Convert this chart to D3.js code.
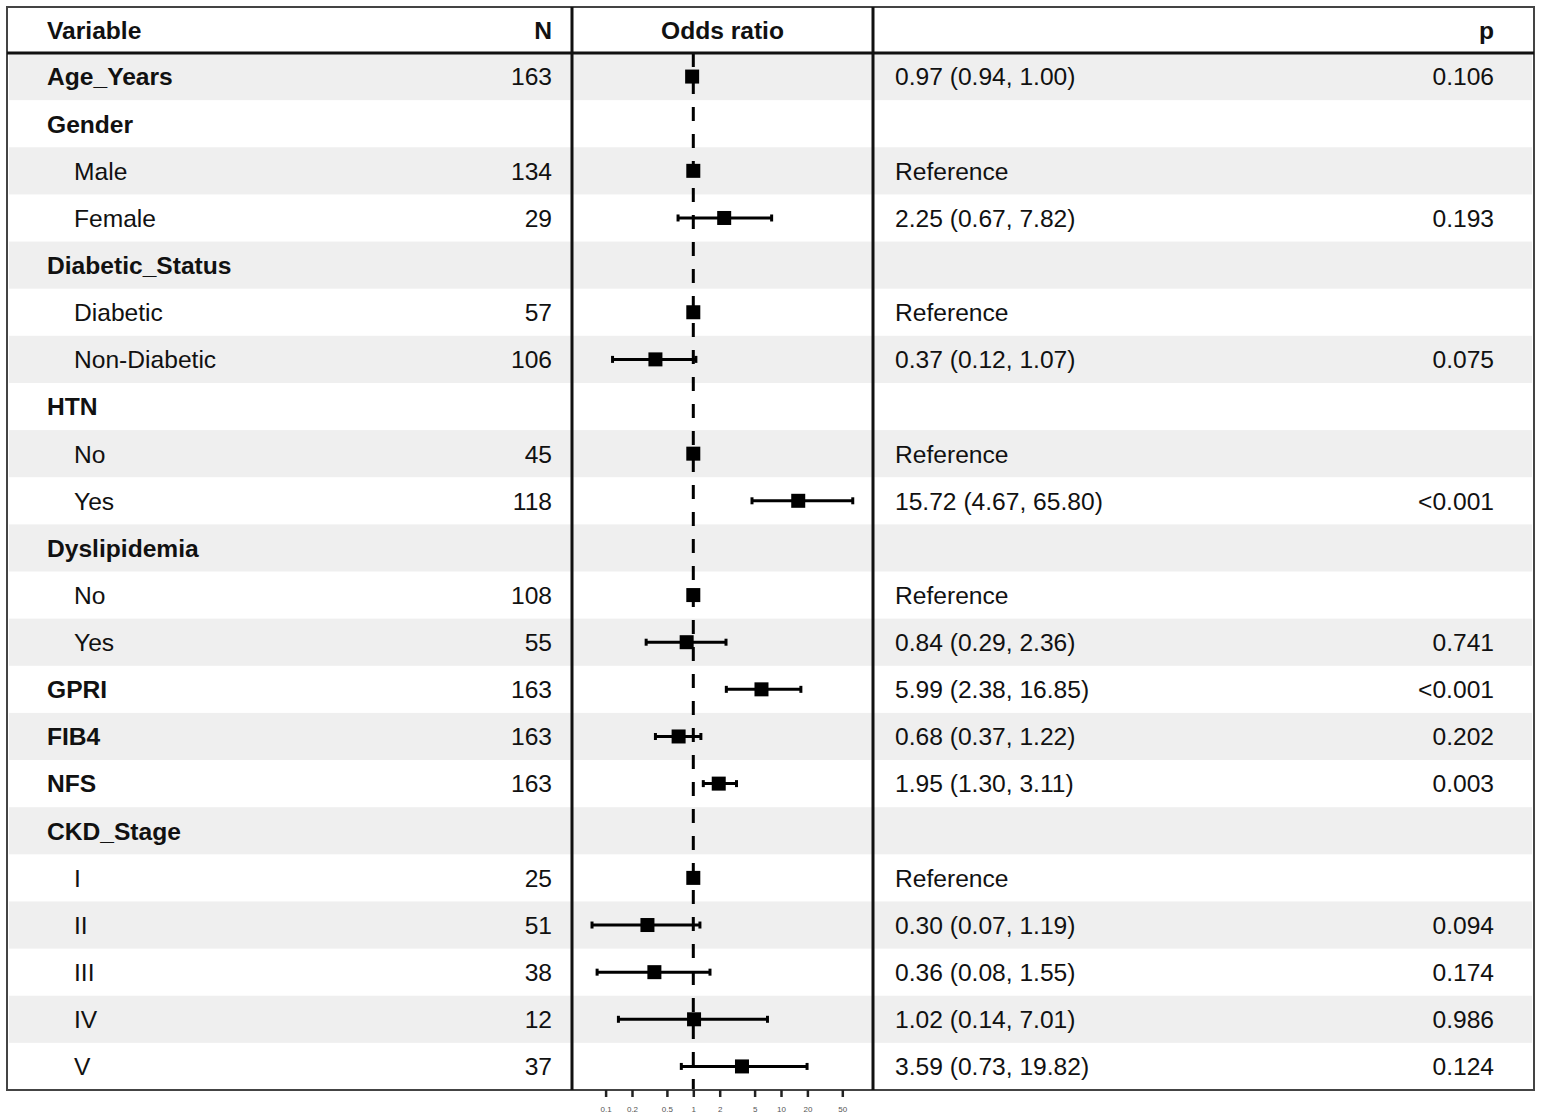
<!DOCTYPE html>
<html>
<head>
<meta charset="utf-8">
<script src="https://cdn.jsdelivr.net/npm/d3@7"></script>
<style>
  html, body { margin: 0; padding: 0; background: #fff; }
  svg { display: block; font-family: "Liberation Sans", Arial, Helvetica, sans-serif; }
</style>
</head>
<body>
<div id="forest"></div>
<script>
// rows of the table, top to bottom
const labels = ["Age_Years", "Gender", "Male", "Female", "Diabetic_Status", "Diabetic", "Non-Diabetic",
                "HTN", "No", "Yes", "Dyslipidemia", "No", "Yes", "GPRI", "FIB4", "NFS",
                "CKD_Stage", "I", "II", "III", "IV", "V"];
const isHeading = [true, true, false, false, true, false, false,
                   true, false, false, true, false, false, true, true, true,
                   true, false, false, false, false, false];
const counts = [163, null, 134, 29, null, 57, 106, null, 45, 118, null, 108, 55, 163, 163, 163,
                null, 25, 51, 38, 12, 37];
const oddsRatio = [0.97, null, 1, 2.25, null, 1, 0.37, null, 1, 15.72, null, 1, 0.84, 5.99, 0.68, 1.95,
                   null, 1, 0.30, 0.36, 1.02, 3.59];
const ciLow = [0.94, null, null, 0.67, null, null, 0.12, null, null, 4.67, null, null, 0.29, 2.38, 0.37, 1.30,
               null, null, 0.07, 0.08, 0.14, 0.73];
const ciHigh = [1.00, null, null, 7.82, null, null, 1.07, null, null, 65.80, null, null, 2.36, 16.85, 1.22, 3.11,
                null, null, 1.19, 1.55, 7.01, 19.82];
const estText = ["0.97 (0.94, 1.00)", "", "Reference", "2.25 (0.67, 7.82)", "", "Reference", "0.37 (0.12, 1.07)",
                 "", "Reference", "15.72 (4.67, 65.80)", "", "Reference", "0.84 (0.29, 2.36)",
                 "5.99 (2.38, 16.85)", "0.68 (0.37, 1.22)", "1.95 (1.30, 3.11)",
                 "", "Reference", "0.30 (0.07, 1.19)", "0.36 (0.08, 1.55)", "1.02 (0.14, 7.01)", "3.59 (0.73, 19.82)"];
const pText = ["0.106", "", "", "0.193", "", "", "0.075", "", "", "<0.001", "", "", "0.741",
               "<0.001", "0.202", "0.003", "", "", "0.094", "0.174", "0.986", "0.124"];
const headers = ["Variable", "N", "Odds ratio", "p"];
const orTicks = [0.1, 0.2, 0.5, 1, 2, 5, 10, 20, 50];

const width = 1541, height = 1118;
const frameL = 7, frameR = 1534, frameT = 7, headBottom = 53, frameB = 1090;
const panelL = 572, panelR = 873;
const fs = 24.6;

const svg = d3.select("#forest").append("svg")
    .attr("width", width)
    .attr("height", height);

const y = d3.scaleBand()
    .domain(d3.range(labels.length))
    .range([headBottom, frameB]);

const x = d3.scaleLog()
    .domain([0.1, 50])
    .range([605.6, 842.3]);

// zebra stripes
svg.selectAll(".stripe")
    .data(d3.range(labels.length).filter(i => i % 2 === 0))
    .enter().append("rect")
    .attr("class", "stripe")
    .attr("x", frameL + 2)
    .attr("width", frameR - frameL - 4)
    .attr("y", i => y(i))
    .attr("height", y.bandwidth())
    .attr("fill", "#efefef");

// header text
const headRow = svg.append("g").attr("font-weight", "bold").attr("font-size", fs).attr("fill", "#111");
headRow.append("text").attr("x", 47).attr("y", 30).attr("dy", "0.35em").text(headers[0]);
headRow.append("text").attr("x", 552).attr("y", 30).attr("dy", "0.35em").attr("text-anchor", "end").text(headers[1]);
headRow.append("text").attr("x", (panelL + panelR) / 2).attr("y", 30).attr("dy", "0.35em").attr("text-anchor", "middle").text(headers[2]);
headRow.append("text").attr("x", 1494).attr("y", 30).attr("dy", "0.35em").attr("text-anchor", "end").text(headers[3]);

// table body text
const rows = svg.selectAll(".row")
    .data(d3.range(labels.length))
    .enter().append("g")
    .attr("class", "row")
    .attr("transform", i => `translate(0,${y(i) + y.bandwidth() / 2})`)
    .attr("font-size", fs)
    .attr("fill", "#111");

rows.append("text")
    .attr("x", i => isHeading[i] ? 47 : 74)
    .attr("dy", "0.36em")
    .attr("font-weight", i => isHeading[i] ? "bold" : "normal")
    .text(i => labels[i]);

rows.append("text")
    .attr("x", 552)
    .attr("dy", "0.36em")
    .attr("text-anchor", "end")
    .text(i => counts[i] == null ? "" : counts[i]);

rows.append("text")
    .attr("x", 895)
    .attr("dy", "0.36em")
    .text(i => estText[i]);

rows.append("text")
    .attr("x", 1494)
    .attr("dy", "0.36em")
    .attr("text-anchor", "end")
    .text(i => pText[i]);

// reference line at OR = 1
svg.append("line")
    .attr("x1", x(1)).attr("x2", x(1))
    .attr("y1", headBottom).attr("y2", frameB)
    .attr("stroke", "#000")
    .attr("stroke-width", 3)
    .attr("stroke-dasharray", "14,13");

// whiskers
const ci = d3.range(labels.length).filter(i => ciLow[i] != null);
const whisk = svg.selectAll(".ci")
    .data(ci)
    .enter().append("g")
    .attr("class", "ci")
    .attr("stroke", "#000");

whisk.append("line")
    .attr("x1", i => x(ciLow[i])).attr("x2", i => x(ciHigh[i]))
    .attr("y1", i => y(i) + y.bandwidth() / 2).attr("y2", i => y(i) + y.bandwidth() / 2)
    .attr("stroke-width", 3);

whisk.selectAll(".cap")
    .data(i => [[i, ciLow[i]], [i, ciHigh[i]]])
    .enter().append("line")
    .attr("class", "cap")
    .attr("x1", d => x(d[1])).attr("x2", d => x(d[1]))
    .attr("y1", d => y(d[0]) + y.bandwidth() / 2 - 3.5)
    .attr("y2", d => y(d[0]) + y.bandwidth() / 2 + 3.5)
    .attr("stroke-width", 3);

// point estimates
const sq = 14;
svg.selectAll(".est")
    .data(d3.range(labels.length).filter(i => oddsRatio[i] != null))
    .enter().append("rect")
    .attr("class", "est")
    .attr("x", i => x(oddsRatio[i]) - sq / 2)
    .attr("y", i => y(i) + y.bandwidth() / 2 - sq / 2)
    .attr("width", sq)
    .attr("height", sq)
    .attr("fill", "#000");

// frame
svg.append("rect")
    .attr("x", frameL).attr("y", frameT)
    .attr("width", frameR - frameL).attr("height", frameB - frameT)
    .attr("fill", "none")
    .attr("stroke", "#444")
    .attr("stroke-width", 2);

svg.append("line")
    .attr("x1", frameL).attr("x2", frameR)
    .attr("y1", headBottom).attr("y2", headBottom)
    .attr("stroke", "#111").attr("stroke-width", 3);

[panelL, panelR].forEach(px => {
    svg.append("line")
        .attr("x1", px).attr("x2", px)
        .attr("y1", frameT).attr("y2", frameB)
        .attr("stroke", "#111").attr("stroke-width", 3);
});

// log axis under the plot panel
const axis = svg.append("g")
    .attr("transform", `translate(0,${frameB})`)
    .call(d3.axisBottom(x).tickValues(orTicks).tickFormat(d => String(d)).tickSize(7).tickPadding(9));

axis.select(".domain").remove();
axis.selectAll(".tick line").attr("stroke", "#222").attr("stroke-width", 2.5);
axis.selectAll(".tick text")
    .attr("fill", "#555")
    .attr("font-size", 8)
    .attr("font-family", "'Liberation Sans', Arial, sans-serif");
</script>
</body>
</html>
